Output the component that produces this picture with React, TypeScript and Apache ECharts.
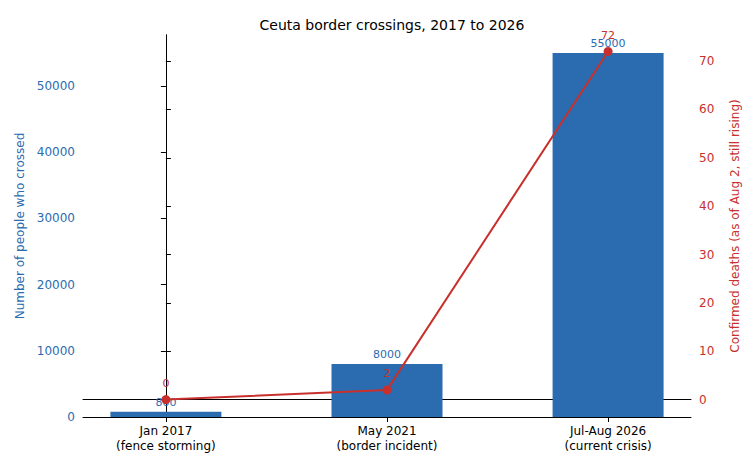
import React, { useEffect, useRef } from "react";
import * as echarts from "echarts";

const categories = ["Jan 2017\n(fence storming)", "May 2021\n(border incident)", "Jul-Aug 2026\n(current crisis)"];
const crossings = [800, 8000, 55000];
const deaths = [0, 2, 72];
const rightTicks = [0, 10, 20, 30, 40, 50, 60, 70];
const xTicks = [0, 1, 2];

const BLUE = "#2b6cb0";
const RED = "#c8302c";

export default function App() {
  const ref = useRef<HTMLDivElement>(null);
  useEffect(() => {
    const chart = echarts.init(ref.current!, null, { renderer: "svg" });
    const font = "DejaVu Sans";
    chart.setOption({
      animation: false,
      textStyle: { fontFamily: font },
      title: {
        text: "Ceuta border crossings, 2017 to 2026",
        left: 387, top: 13, textAlign: "center",
        textStyle: { fontSize: 14, fontWeight: "normal", color: "#000", fontFamily: font },
      },
      grid: { left: 83, right: 59, top: 35, bottom: 51 },
      xAxis: [
        {
          type: "value", min: -0.375, max: 2.375,
          splitLine: { show: false },
          axisLine: { lineStyle: { color: "#000" } },
          axisTick: { customValues: xTicks, lineStyle: { color: "#000" } },
          axisLabel: {
            customValues: xTicks, color: "#000", fontSize: 12, lineHeight: 15, margin: 6,
            formatter: (v: number) => categories[Math.round(v)] ?? "",
          },
        },
        {
          type: "value", position: "top", min: -0.375, max: 2.375,
          splitLine: { show: false }, axisTick: { show: false }, axisLabel: { show: false },
          axisLine: { show: true, lineStyle: { color: "#000" } },
        },
      ],
      yAxis: [
        {
          type: "value", min: 0, max: 57700, interval: 10000,
          name: "Number of people who crossed", nameLocation: "middle", nameGap: 52,
          nameTextStyle: { color: BLUE, fontSize: 12 },
          splitLine: { show: false },
          axisLine: { show: true, lineStyle: { color: "#000" } },
          axisTick: { show: true, lineStyle: { color: "#000" } },
          axisLabel: { color: BLUE, fontSize: 12, showMaxLabel: false, formatter: (v: number) => String(v) },
        },
        {
          type: "value", min: -3.6, max: 75.4,
          name: "Confirmed deaths (as of Aug 2, still rising)", nameLocation: "middle", nameGap: 38,
          nameRotate: 90,
          nameTextStyle: { color: RED, fontSize: 12 },
          splitLine: { show: false },
          axisLine: { show: true, lineStyle: { color: "#000" } },
          axisTick: { show: true, customValues: rightTicks, lineStyle: { color: "#000" } },
          axisLabel: { color: RED, fontSize: 12, customValues: rightTicks },
        },
      ],
      series: [
        {
          type: "bar", data: crossings.map((v, i) => [i, v]), yAxisIndex: 0, barWidth: 111,
          itemStyle: { color: BLUE },
          label: { show: true, position: "top", color: BLUE, fontSize: 11, distance: 4, formatter: (p: any) => String(p.value[1]) },
        },
        {
          type: "line", data: deaths.map((v, i) => [i, v]), yAxisIndex: 1,
          lineStyle: { color: RED, width: 2 }, itemStyle: { color: RED },
          symbol: "circle", symbolSize: 9,
          label: { show: true, position: "top", color: RED, fontSize: 11, distance: 6, formatter: (p: any) => String(p.value[1]) },
        },
      ],
    });
    return () => chart.dispose();
  }, []);
  return <div ref={ref} style={{ width: 750, height: 468, position: "absolute", left: 0, top: 0 }} />;
}
